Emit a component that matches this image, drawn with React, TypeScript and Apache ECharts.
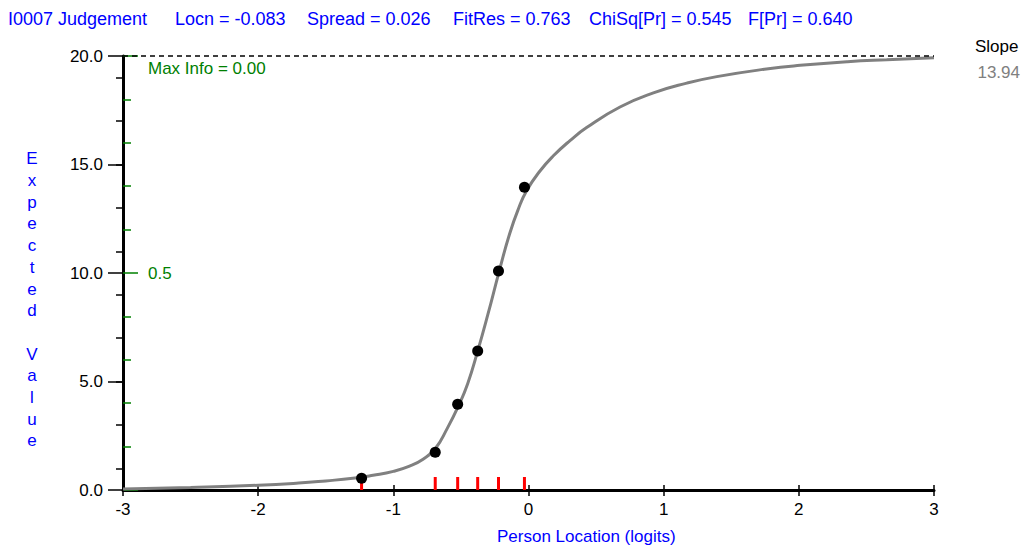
import React, { useEffect, useRef } from "react";
import * as echarts from "echarts";

// Item header statistics
const itemLabel = "I0007 Judgement";
const headerStats = [
  "Locn = -0.083",
  "Spread = 0.026",
  "FitRes = 0.763",
  "ChiSq[Pr] = 0.545",
  "F[Pr] = 0.640",
];
const slopeValue = "13.94";
const maxInfo = "0.00";

// Expected value curve (person location in logits -> expected score)
const curveX = [
  -3.0, -2.5, -2.0, -1.7, -1.5, -1.3, -1.15, -1.0, -0.88, -0.78, -0.69, -0.6,
  -0.52, -0.45, -0.376, -0.3, -0.216, -0.14, -0.075, -0.013, 0.085, 0.184,
  0.307, 0.43, 0.677, 0.924, 1.171, 1.393, 1.76, 2.01, 2.36, 2.65, 3.0,
];
const curveY = [
  0.05, 0.12, 0.22, 0.32, 0.42, 0.54, 0.68, 0.86, 1.1, 1.42, 1.9, 2.85, 3.85,
  4.9, 6.4, 8.1, 10.1, 11.8, 12.95, 13.8, 14.7, 15.4, 16.1, 16.7, 17.65, 18.3,
  18.75, 19.05, 19.4, 19.57, 19.74, 19.83, 19.92,
];

// Class intervals: mean location and observed mean score
const classX = [-1.235, -0.69, -0.524, -0.376, -0.222, -0.03];
const classObs = [0.54, 1.74, 3.95, 6.41, 10.09, 13.95];

// Axis ranges and tick values
const yMax = 20;
const yMajorStep = 5;
const yOddTicks = [1, 3, 5, 7, 9, 11, 13, 15, 17, 19];
const infoTicks = [2, 4, 6, 8, 12, 14, 16, 18];
const infoMajorTicks = [0, 10, 20];
const infoLabelTicks = [10];

const FONT = "'Liberation Sans', Arial, sans-serif";
const BLUE = "#0000ff";
const GREEN = "#008000";

export default function App() {
  const ref = useRef<HTMLDivElement>(null);

  useEffect(() => {
    if (!ref.current) return;
    const chart = echarts.init(ref.current, null, { renderer: "svg" });

    const headerX = [175, 307, 453, 589, 748];

    const plainY = {
      type: "value",
      min: 0,
      max: yMax,
      position: "left",
      splitLine: { show: false },
    };

    const option: any = {
      animation: false,
      backgroundColor: "#ffffff",
      textStyle: { fontFamily: FONT },
      grid: { left: 123, right: 97, top: 56, bottom: 62 },
      xAxis: [
        {
          type: "value",
          min: -3,
          max: 3,
          interval: 1,
          position: "bottom",
          axisLine: { show: true, onZero: false, lineStyle: { color: "#000", width: 3 } },
          axisTick: { show: true, length: 6, lineStyle: { color: "#000", width: 1.5 } },
          axisLabel: { color: "#000", fontSize: 17, fontFamily: FONT, margin: 11 },
          splitLine: { show: false },
        },
        {
          type: "value",
          min: -3,
          max: 3,
          interval: 1,
          position: "bottom",
          axisLine: { show: false, onZero: false },
          axisTick: { show: true, inside: true, length: 5, lineStyle: { color: "#000", width: 1.5 } },
          axisLabel: { show: false },
          splitLine: { show: false },
        },
      ],
      yAxis: [
        {
          ...plainY,
          interval: yMajorStep,
          axisLine: { show: true, onZero: false, lineStyle: { color: "#000", width: 3 } },
          axisTick: { show: true, length: 15, lineStyle: { color: "#000", width: 1.5 } },
          axisLabel: {
            color: "#000",
            fontSize: 17,
            fontFamily: FONT,
            margin: 20,
            formatter: (v: number) => v.toFixed(1),
          },
        },
        {
          ...plainY,
          axisLine: { show: false, onZero: false },
          axisTick: {
            show: true,
            length: 7,
            customValues: yOddTicks,
            lineStyle: { color: "#000", width: 1.5 },
          },
          axisLabel: { show: false },
        },
        {
          ...plainY,
          axisLine: { show: false, onZero: false },
          axisTick: {
            show: true,
            inside: true,
            length: 8,
            customValues: infoTicks,
            lineStyle: { color: GREEN, width: 1.5 },
          },
          axisLabel: { show: false },
        },
        {
          ...plainY,
          axisLine: { show: false, onZero: false },
          axisTick: {
            show: true,
            inside: true,
            length: 15,
            customValues: infoMajorTicks,
            lineStyle: { color: GREEN, width: 1.5 },
          },
          axisLabel: {
            show: true,
            inside: true,
            margin: 25,
            customValues: infoLabelTicks,
            color: GREEN,
            fontSize: 17,
            fontFamily: FONT,
            formatter: (v: number) => (v / yMax).toFixed(1),
          },
        },
      ],
      series: [
        {
          name: "Expected",
          type: "line",
          data: curveX.map((x, i) => [x, curveY[i]]),
          showSymbol: false,
          smooth: 0.5,
          lineStyle: { color: "#808080", width: 3 },
          z: 3,
          markLine: {
            silent: true,
            symbol: "none",
            label: { show: false },
            lineStyle: { color: "#000", width: 1.5, type: [5, 4] },
            data: [{ yAxis: yMax }],
          },
        },
        {
          name: "Class locations",
          type: "scatter",
          data: classX.map((x) => [x, 0]),
          symbol: "rect",
          symbolSize: [3, 13],
          symbolOffset: [0, -6.5],
          itemStyle: { color: "#ff0000", opacity: 1 },
          z: 2,
        },
        {
          name: "Observed",
          type: "scatter",
          data: classX.map((x, i) => [x, classObs[i]]),
          symbol: "circle",
          symbolSize: 11,
          itemStyle: { color: "#000", opacity: 1 },
          z: 4,
        },
      ],
      graphic: [
        {
          type: "text",
          left: 8,
          top: 10,
          style: { text: itemLabel, fill: BLUE, fontSize: 18, fontFamily: FONT },
        },
        ...headerStats.map((t, i) => ({
          type: "text",
          left: headerX[i],
          top: 10,
          style: { text: t, fill: BLUE, fontSize: 18, fontFamily: FONT },
        })),
        {
          type: "text",
          left: 148,
          top: 60,
          style: { text: "Max Info = " + maxInfo, fill: GREEN, fontSize: 17, fontFamily: FONT },
        },
        {
          type: "text",
          left: 975,
          top: 38,
          style: { text: "Slope", fill: "#000", fontSize: 17, fontFamily: FONT },
        },
        {
          type: "text",
          right: 11,
          top: 64,
          style: { text: slopeValue, fill: "#808080", fontSize: 17, fontFamily: FONT },
        },
        {
          type: "text",
          left: 497,
          top: 528,
          style: { text: "Person Location (logits)", fill: BLUE, fontSize: 17, fontFamily: FONT },
        },
        {
          type: "text",
          x: 32,
          y: 148,
          style: {
            text: "Expected Value".split("").join("\n"),
            fill: BLUE,
            fontSize: 17,
            fontFamily: FONT,
            align: "center",
            lineHeight: 21.7,
          },
        },
      ],
    };

    chart.setOption(option);
    return () => chart.dispose();
  }, []);

  return (
    <div
      ref={ref}
      style={{ position: "absolute", left: 0, top: 0, width: 1031, height: 552, background: "#fff" }}
    />
  );
}
